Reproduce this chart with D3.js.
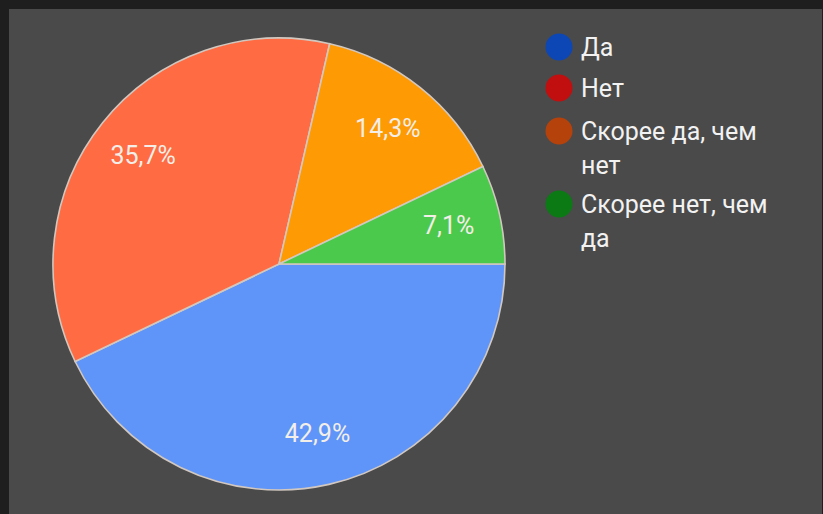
<!DOCTYPE html>
<html lang="ru">
<head>
<meta charset="UTF-8">
<title>Pie</title>
<script src="https://d3js.org/d3.v7.min.js"></script>
<style>
  html, body { margin: 0; padding: 0; background: #1e1e1e; }
  svg { display: block; }
</style>
</head>
<body>
<div id="chart"></div>
<script>
  // data
  var categories = ["Да", "Нет", "Скорее да, чем нет", "Скорее нет, чем да"];
  var shares = [42.9, 35.7, 14.3, 7.1];
  var sliceLabels = ["42,9%", "35,7%", "14,3%", "7,1%"];
  var legendLines = [["Да"], ["Нет"], ["Скорее да, чем", "нет"], ["Скорее нет, чем", "да"]];
  var sliceColors = ["#5f95f8", "#ff6b42", "#fd9a04", "#4bc94c"];
  var legendColors = ["#0d47b5", "#c10f0f", "#b6420b", "#0b7a15"];

  var width = 823, height = 514;
  var cx = 279, cy = 264, r = 226;

  var svg = d3.select("#chart").append("svg")
      .attr("width", width)
      .attr("height", height);

  // grey panel inside the dark frame
  svg.append("rect")
      .attr("x", 9).attr("y", 9)
      .attr("width", width - 10).attr("height", height - 9)
      .attr("fill", "#4a4a4a");

  var pie = d3.pie()
      .sort(null)
      .startAngle(Math.PI / 2)
      .endAngle(Math.PI / 2 + 2 * Math.PI);

  var arcs = pie(shares);

  var arc = d3.arc().innerRadius(0).outerRadius(r);
  var labelArc = d3.arc().innerRadius(r * 0.77).outerRadius(r * 0.77);

  var g = svg.append("g").attr("transform", "translate(" + cx + "," + cy + ")");

  g.selectAll("path")
      .data(arcs)
      .enter().append("path")
      .attr("d", arc)
      .attr("fill", function(d, i){ return sliceColors[i]; })
      .attr("stroke", "#d2c8c0")
      .attr("stroke-width", 1.6);

  g.selectAll("text")
      .data(arcs)
      .enter().append("text")
      .attr("transform", function(d){ return "translate(" + labelArc.centroid(d) + ")"; })
      .attr("text-anchor", "middle")
      .attr("dominant-baseline", "central")
      .attr("font-family", "Roboto, sans-serif")
      .attr("font-size", 25)
      .attr("fill", "#f3eee8")
      .text(function(d, i){ return sliceLabels[i]; });

  // legend
  var legendY = [47, 88, 131, 204];
  var lineH = 34;

  var leg = svg.append("g");
  var items = leg.selectAll("g")
      .data(categories)
      .enter().append("g")
      .attr("transform", function(d, i){ return "translate(559," + legendY[i] + ")"; });

  items.append("circle")
      .attr("r", 13.5)
      .attr("fill", function(d, i){ return legendColors[i]; });

  items.each(function(d, i){
    var t = d3.select(this).append("text")
        .attr("font-family", "Roboto, sans-serif")
        .attr("font-size", 25)
        .attr("fill", "#f2f2f2");
    legendLines[i].forEach(function(line, j){
      t.append("tspan")
          .attr("x", 22)
          .attr("y", j * lineH)
          .attr("dy", "0.36em")
          .text(line);
    });
  });
</script>
</body>
</html>
